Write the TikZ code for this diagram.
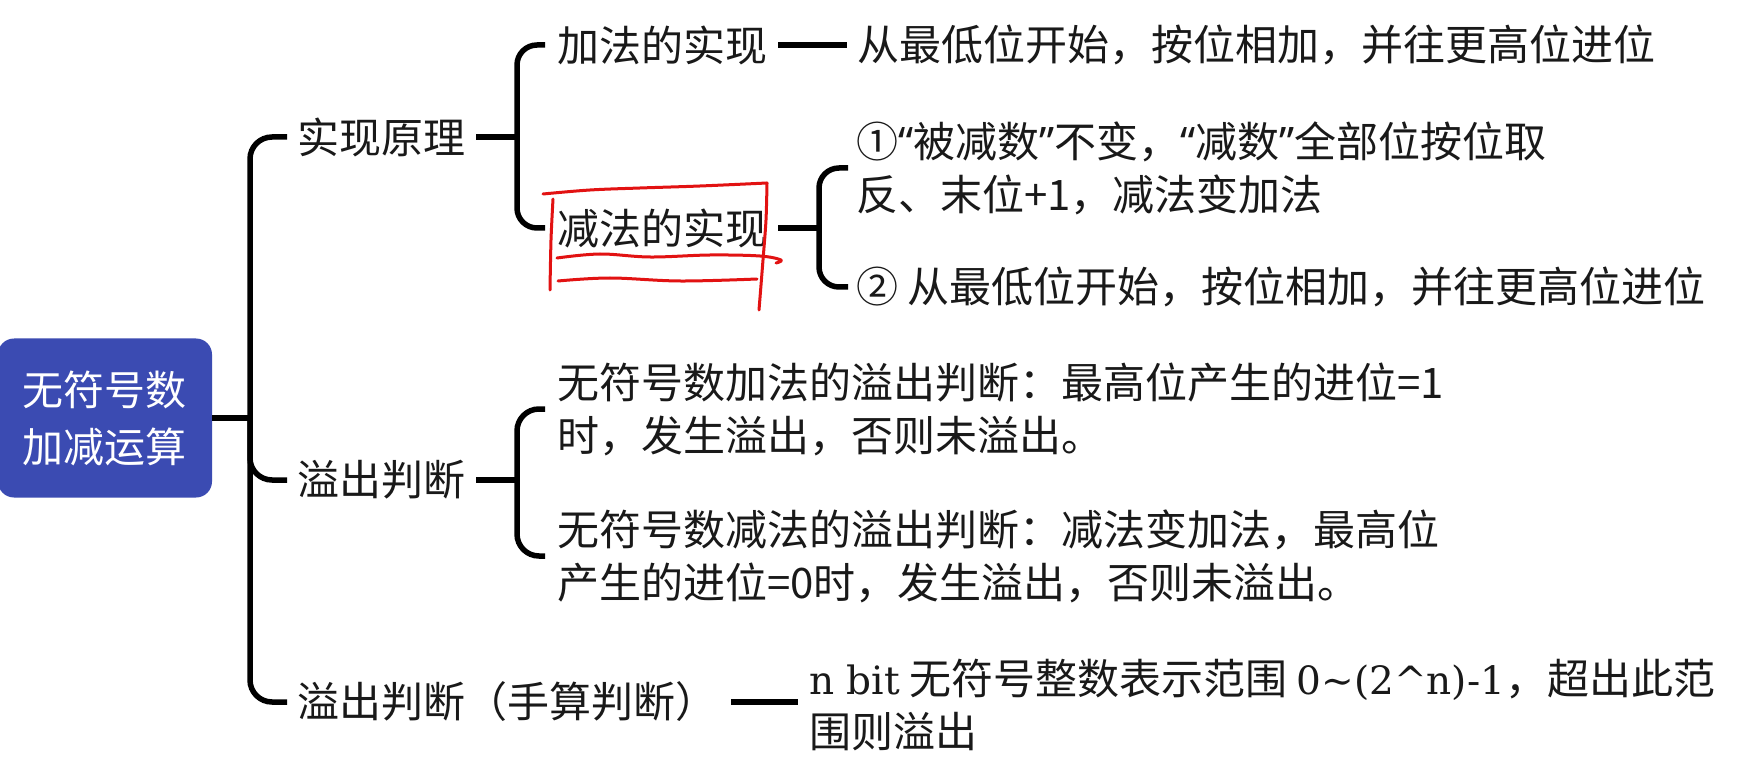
\documentclass[tikz,border=0pt]{standalone}
\usepackage{fontspec}
\setmainfont{Noto Sans CJK SC}
\newfontfamily\latinserif{DejaVu Serif}
\newfontfamily\latinsans{Noto Sans}
\newcommand{\myopenq}{{\latinsans “}}
\newcommand{\myclosq}{{\latinsans ”}}
\usetikzlibrary{calc}
\definecolor{rootblue}{RGB}{59,75,178}
\definecolor{inkred}{RGB}{226,18,18}
\definecolor{txtcol}{RGB}{25,25,25}
\begin{document}
\begin{tikzpicture}[x=1pt,y=-1pt,
  conn/.style={draw=black, line width=5.5pt},
  txt/.style={anchor=west, inner sep=0pt, text=txtcol, align=left, font=\fontsize{42}{53}\selectfont},
  rootbox/.style={fill=rootblue, rounded corners=16pt, minimum width=214pt, minimum height=159pt, inner sep=0pt, text=white, align=center, font=\fontsize{41}{57}\selectfont},
  redink/.style={draw=inkred, line width=3pt, line cap=round, line join=round}]
\useasboundingbox (0,0) rectangle (1743,759);
\fill[white] (0,0) rectangle (1743,759);

% root
\node[rootbox] (root) at (105,418) {无符号数\\加减运算};

% level 1
\node[txt] (p1) at (297,137) {实现原理};
\node[txt] (p2) at (297,480) {溢出判断};
\node[txt] (p3) at (297,702) {溢出判断（手算判断）};

% level 2
\node[txt] (a1) at (557,45) {加法的实现};
\node[txt] (a2) at (557,228) {减法的实现};
\node[txt] (t1) at (857,45) {从最低位开始，按位相加，并往更高位进位};
\node[txt] (s1) at (856,168) {①\myopenq 被减数\myclosq 不变，\myopenq 减数\myclosq 全部位按位取\\反、末位+1，减法变加法};
\node[txt] (s2) at (856,287) {② 从最低位开始，按位相加，并往更高位进位};
\node[txt] (o1) at (557,409) {无符号数加法的溢出判断：最高位产生的进位=1\\时，发生溢出，否则未溢出。};
\node[txt] (o2) at (557,556) {无符号数减法的溢出判断：减法变加法，最高位\\产生的进位=0时，发生溢出，否则未溢出。};
\node[txt] (n1) at (809,705) {{\latinserif\fontsize{39}{53}\selectfont n bit} 无符号整数表示范围 {\latinserif\fontsize{39}{53}\selectfont 0\textasciitilde(2\textasciicircum n)-1}，超出此范\\围则溢出};

% main tree
\coordinate (mx) at (250,418);
\draw[conn] (root.east) -- (mx);
\draw[conn, rounded corners=22pt] ([xshift=-10pt]p1.west) -| (mx) |- ([xshift=-10pt]p3.west);
\draw[conn, rounded corners=22pt] (mx) |- ([xshift=-10pt]p2.west);

% bracket of 实现原理
\coordinate (b1) at ($(a1.west)+(-40,0)$);
\draw[conn] ([xshift=11pt]p1.east) -- (p1.east -| b1);
\draw[conn, rounded corners=20pt] ([xshift=-12pt]a1.west) -- (b1) |- ([xshift=-12pt]a2.west);

% 加法的实现 -> text
\draw[conn] ([xshift=11pt]a1.east) -- ([xshift=-10pt]t1.west);

% bracket of 减法的实现
\coordinate (b2) at ($(s1.west)+(-37,0)$);
\draw[conn] ([xshift=11pt]a2.east) -- (a2.east -| b2);
\draw[conn, rounded corners=20pt] ([xshift=-8pt]s1.west) -- (b2) |- ([xshift=-8pt]s2.west);

% bracket of 溢出判断
\coordinate (b3) at ($(o1.west)+(-40,0)$);
\draw[conn] ([xshift=11pt]p2.east) -- (p2.east -| b3);
\draw[conn, rounded corners=22pt] ([xshift=-12pt]o1.west) -- (b3) |- ([xshift=-12pt]o2.west);

% 溢出判断（手算判断） -> text
\draw[conn] ([xshift=14pt]p3.east) -- ([xshift=-11pt]p3.east -| n1.west);

% red hand-drawn annotation
\draw[redink] plot[smooth, tension=0.6] coordinates {(543,194) (590,190) (640,188) (700,186) (767,183)};
\draw[redink] plot[smooth] coordinates {(767,183) (766,220) (763,260) (759,310)};
\draw[redink] plot[smooth] coordinates {(553,199) (551,240) (550,290)};
\draw[redink] plot[smooth, tension=0.6] coordinates {(557,258) (600,254) (650,257) (710,255) (760,256) (781,260) (776,263)};
\draw[redink] plot[smooth, tension=0.6] coordinates {(558,281) (610,278) (680,281) (757,279)};
\end{tikzpicture}
\end{document}
